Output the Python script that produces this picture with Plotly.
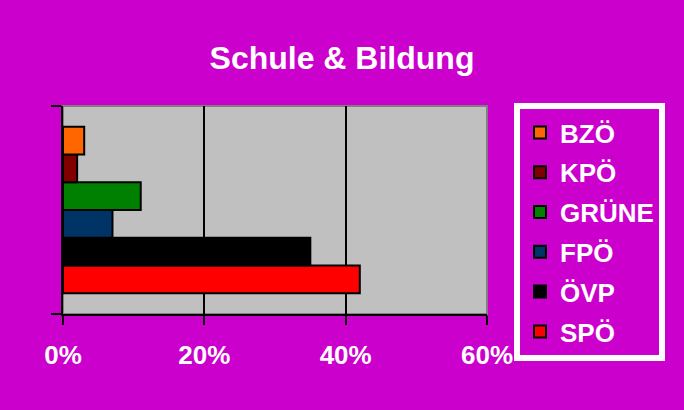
import plotly.graph_objects as go

parties = ["SPÖ", "ÖVP", "FPÖ", "GRÜNE", "KPÖ", "BZÖ"]
values = [42, 35, 7, 11, 2, 3]
colors = ["#FF0000", "#000000", "#003366", "#008000", "#800000", "#FF6600"]
category = ["Schule & Bildung"]
tick_vals = [0, 20, 40, 60]
tick_text = ["0%", "20%", "40%", "60%"]

font_family = "Liberation Sans, Arial, sans-serif"

fig = go.Figure()
n = len(parties)
for i, (p, v, c) in enumerate(zip(parties, values, colors)):
    fig.add_trace(go.Bar(
        y=category, x=[v], name=p, orientation="h",
        marker=dict(color=c, line=dict(color="#000000", width=2)),
        legendgroup=p, legendrank=n - i,
    ))

fig.update_layout(
    width=684, height=410,
    paper_bgcolor="#CC00CC", plot_bgcolor="#C0C0C0",
    barmode="group", bargap=0.2, bargroupgap=0,
    margin=dict(l=63, r=197, t=106, b=96, autoexpand=False),
    title=dict(text="<b>Schule & Bildung</b>", x=0.5, xref="container", xanchor="center",
               y=1 - 58 / 410, yref="container", yanchor="middle",
               font=dict(family=font_family, size=32, color="white")),
    showlegend=True,
    legend=dict(
        xref="container", yref="container",
        x=514 / 684, y=1 - 103 / 410, xanchor="left", yanchor="top",
        bgcolor="#CC00CC", bordercolor="white", borderwidth=6,
        font=dict(family=font_family, size=26, color="white", weight="bold"),
        traceorder="grouped", tracegroupgap=3, maxheight=400,
    ),
    xaxis=dict(
        range=[0, 60], tickvals=tick_vals, ticktext=tick_text,
        showgrid=True, gridcolor="#000000", gridwidth=2,
        showline=True, linecolor="#000000", linewidth=2,
        ticks="outside", ticklen=9, tickwidth=2, tickcolor="#000000",
        tickfont=dict(family=font_family, size=26, color="white", weight="bold"),
        ticklabelstandoff=8, zeroline=False, fixedrange=True,
    ),
    yaxis=dict(
        type="category", tickson="boundaries", showticklabels=False,
        showgrid=False, showline=True, linecolor="#000000", linewidth=2,
        ticks="outside", ticklen=10, tickwidth=2, tickcolor="#000000",
        zeroline=False, fixedrange=True,
    ),
    shapes=[dict(type="rect", xref="paper", yref="paper", x0=0, x1=1, y0=0, y1=1,
                 line=dict(color="#808080", width=2), layer="below")],
)

fig.write_html("out.html", config={"displayModeBar": False},
               post_script="document.body.style.margin='0';")
